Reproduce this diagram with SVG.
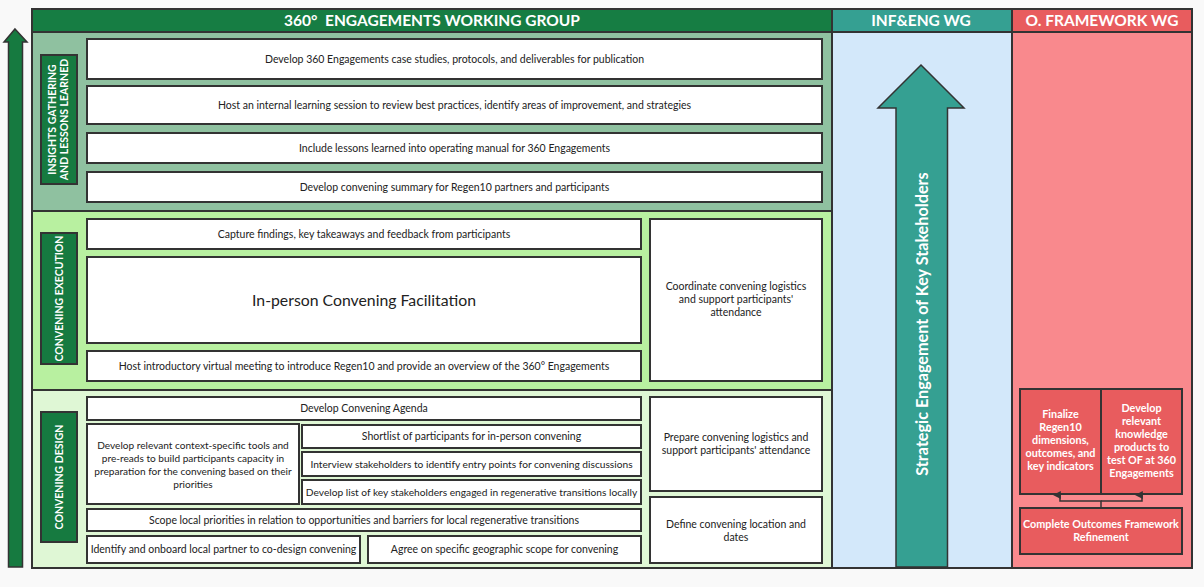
<svg xmlns="http://www.w3.org/2000/svg" width="1204" height="587" viewBox="0 0 1204 587">
<style>
.bx{fill:#fff;stroke:#333;stroke-width:2}
.t{font-family:Lato,"Open Sans",sans-serif;font-size:10.5px;fill:#222;text-anchor:middle}
.hd{font-family:Lato,"Open Sans",sans-serif;font-size:15.5px;font-weight:bold;fill:#fff;text-anchor:middle}
.lb{fill:#167A40;stroke:#333;stroke-width:2}
.lt{font-family:Lato,"Open Sans",sans-serif;font-size:10.5px;font-weight:bold;fill:#fff;text-anchor:middle}
.of{fill:#E85C5E;stroke:#333;stroke-width:2}
.ot{font-family:Lato,"Open Sans",sans-serif;font-size:10.8px;font-weight:bold;fill:#fff;text-anchor:middle}
.ln{fill:none;stroke:#333;stroke-width:1.5}
</style>
<defs>
<marker id="ah" viewBox="0 0 10 10" refX="5" refY="9" markerWidth="8" markerHeight="8" orient="auto-start-reverse" markerUnits="userSpaceOnUse">
<path d="M0,10 L5,0 L10,10 Z" fill="#333"/>
</marker>
</defs>
<rect x="0" y="0" width="1204" height="587" fill="#F9F9F9"/>

<g id="progress-arrow">
<path d="M15,29 L27,42 L22.5,42 L22.5,567 L8.5,567 L8.5,42 L4,42 Z" fill="#167A40" stroke="#333" stroke-width="1.5"/>
</g>

<g id="headers">
<rect x="32" y="9" width="800" height="23" fill="#167D43" stroke="#333" stroke-width="2"/>
<text class="hd" x="432" y="25.5">360°&#160; ENGAGEMENTS WORKING GROUP</text>
<rect x="832" y="9" width="180" height="23" fill="#35A092" stroke="#333" stroke-width="2"/>
<text class="hd" x="921" y="25.5">INF&amp;ENG WG</text>
<rect x="1012" y="9" width="180" height="23" fill="#E85C5E" stroke="#333" stroke-width="2"/>
<text class="hd" x="1102" y="25.5">O. FRAMEWORK WG</text>
</g>

<g id="section-insights">
<rect x="32" y="32" width="800" height="179" fill="#8FC1A0" stroke="#333" stroke-width="2"/>
<rect class="lb" x="41" y="55" width="36" height="129"/>
<text class="lt" transform="translate(59,119.5) rotate(-90)"><tspan x="0" y="-3">INSIGHTS GATHERING</tspan><tspan x="0" y="9">AND LESSONS LEARNED</tspan></text>
</g>
<g id="n-case-studies"><rect class="bx" x="87" y="39" width="735" height="40"/><text class="t" x="454.5" y="62.5">Develop 360 Engagements case studies, protocols, and deliverables for publication</text></g>
<g id="n-learning-session"><rect class="bx" x="87" y="86" width="735" height="38"/><text class="t" x="454.5" y="108.5">Host an internal learning session to review best practices, identify areas of improvement, and strategies</text></g>
<g id="n-operating-manual"><rect class="bx" x="87" y="133" width="735" height="30"/><text class="t" x="454.5" y="151.5">Include lessons learned into operating manual for 360 Engagements</text></g>
<g id="n-convening-summary"><rect class="bx" x="87" y="172" width="735" height="30"/><text class="t" x="454.5" y="190.5">Develop convening summary for Regen10 partners and participants</text></g>

<g id="section-execution">
<rect x="32" y="211" width="800" height="179" fill="#B8F0A0" stroke="#333" stroke-width="2"/>
<rect class="lb" x="41" y="233" width="36" height="131"/>
<text class="lt" transform="translate(59,298.5) rotate(-90)"><tspan x="0" y="3.5">CONVENING EXECUTION</tspan></text>
</g>
<g id="n-capture"><rect class="bx" x="87" y="219" width="554" height="30"/><text class="t" x="364" y="237.5">Capture findings, key takeaways and feedback from participants</text></g>
<g id="n-inperson"><rect class="bx" x="87" y="257" width="554" height="86"/><text class="t" x="364" y="305.5" style="font-size:15.8px">In-person Convening Facilitation</text></g>
<g id="n-host-intro"><rect class="bx" x="87" y="351" width="554" height="30"/><text class="t" x="364" y="369.5">Host introductory virtual meeting to introduce Regen10 and provide an overview of the 360° Engagements</text></g>
<g id="n-coordinate"><rect class="bx" x="650" y="219" width="172" height="162"/><text class="t" x="736"><tspan x="736" y="290">Coordinate convening logistics</tspan><tspan x="736" y="303">and support participants'</tspan><tspan x="736" y="316">attendance</tspan></text></g>

<g id="section-design">
<rect x="32" y="390" width="800" height="178" fill="#DFF7D5" stroke="#333" stroke-width="2"/>
<rect class="lb" x="41" y="412" width="36" height="130"/>
<text class="lt" transform="translate(59,477) rotate(-90)"><tspan x="0" y="3.5">CONVENING DESIGN</tspan></text>
</g>
<g id="n-agenda"><rect class="bx" x="87" y="397" width="554" height="23"/><text class="t" x="364" y="412">Develop Convening Agenda</text></g>
<g id="n-tools"><rect class="bx" x="87" y="424" width="212" height="80"/><text class="t" style="font-size:10.1px"><tspan x="193" y="449">Develop relevant context-specific tools and</tspan><tspan x="193" y="462">pre-reads to build participants capacity in</tspan><tspan x="193" y="475">preparation for the convening based on their</tspan><tspan x="193" y="488">priorities</tspan></text></g>
<g id="n-shortlist"><rect class="bx" x="302" y="425" width="339" height="23"/><text class="t" x="471.5" y="440">Shortlist of participants for in-person convening</text></g>
<g id="n-interview"><rect class="bx" x="302" y="452" width="339" height="24"/><text class="t" x="471.5" y="467.5" style="font-size:10.2px">Interview stakeholders to identify entry points for convening discussions</text></g>
<g id="n-key-stakeholders"><rect class="bx" x="302" y="480" width="339" height="24"/><text class="t" x="471.5" y="495.5" style="font-size:10.2px">Develop list of key stakeholders engaged in regenerative transitions locally</text></g>
<g id="n-scope"><rect class="bx" x="87" y="509" width="554" height="22"/><text class="t" x="364" y="523.5">Scope local priorities in relation to opportunities and barriers for local regenerative transitions</text></g>
<g id="n-partner"><rect class="bx" x="87" y="536" width="273" height="27"/><text class="t" x="223.5" y="553">Identify and onboard local partner to co-design convening</text></g>
<g id="n-geo"><rect class="bx" x="368" y="536" width="273" height="27"/><text class="t" x="504.5" y="553">Agree on specific geographic scope for convening</text></g>
<g id="n-prepare"><rect class="bx" x="650" y="397" width="172" height="94"/><text class="t"><tspan x="736" y="440.5">Prepare convening logistics and</tspan><tspan x="736" y="453.5">support participants' attendance</tspan></text></g>
<g id="n-define"><rect class="bx" x="650" y="497" width="172" height="66"/><text class="t"><tspan x="736" y="527.5">Define convening location and</tspan><tspan x="736" y="540.5">dates</tspan></text></g>

<g id="col-infeng">
<rect x="832" y="32" width="180" height="536" fill="#D3E8FA" stroke="#333" stroke-width="2"/>
</g>
<g id="n-strategic">
<path d="M921,65 L964,108 L947.5,108 L947.5,567 L896,567 L896,108 L878,108 Z" fill="#35A092" stroke="#333" stroke-width="1.5"/>
<text class="hd" transform="translate(922,324) rotate(-90)" x="0" y="5.5" style="font-size:16.2px">Strategic Engagement of Key Stakeholders</text>
</g>

<g id="col-oframework">
<rect x="1012" y="32" width="180" height="536" fill="#F9898D" stroke="#333" stroke-width="2"/>
</g>
<g id="n-finalize"><rect class="of" x="1020" y="389" width="81" height="105"/><text class="ot"><tspan x="1060.5" y="418">Finalize</tspan><tspan x="1060.5" y="431">Regen10</tspan><tspan x="1060.5" y="444">dimensions,</tspan><tspan x="1060.5" y="457">outcomes, and</tspan><tspan x="1060.5" y="470">key indicators</tspan></text></g>
<g id="n-knowledge"><rect class="of" x="1101" y="389" width="81" height="105"/><text class="ot"><tspan x="1141.5" y="412">Develop</tspan><tspan x="1141.5" y="425">relevant</tspan><tspan x="1141.5" y="438">knowledge</tspan><tspan x="1141.5" y="451">products to</tspan><tspan x="1141.5" y="464">test OF at 360</tspan><tspan x="1141.5" y="477">Engagements</tspan></text></g>
<g id="n-complete"><rect class="of" x="1020" y="508" width="162" height="46"/><text class="ot"><tspan x="1101" y="528">Complete Outcomes Framework</tspan><tspan x="1101" y="541">Refinement</tspan></text></g>

<g id="connectors">
<path class="ln" d="M1101,508 L1101,501 L1060,501 L1060,495" marker-end="url(#ah)"/>
<path class="ln" d="M1101,501 L1142,501 L1142,495" marker-end="url(#ah)"/>
</g>
</svg>
